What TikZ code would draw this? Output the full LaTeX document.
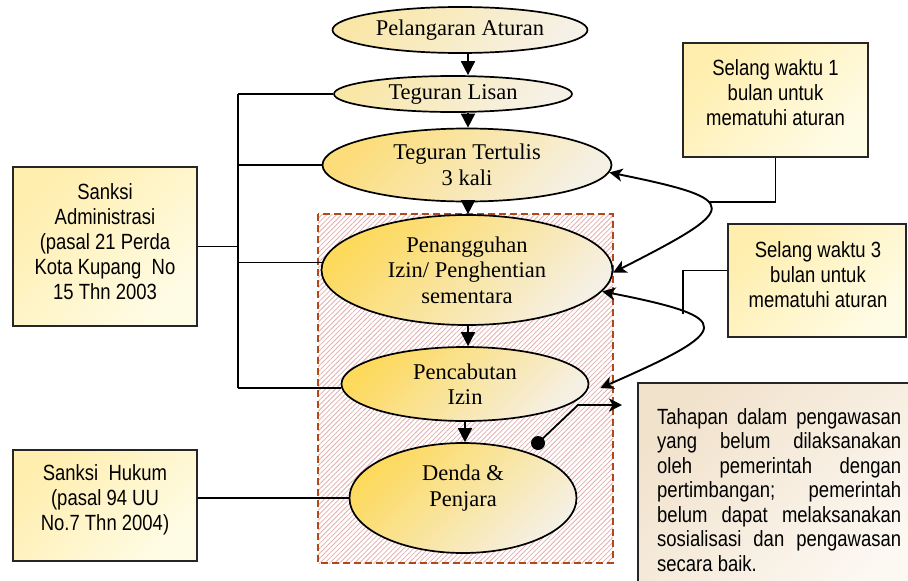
\documentclass[tikz,border=0pt]{standalone}
\usepackage{fontspec}
\setmainfont{Liberation Serif}
\setsansfont{Liberation Sans}[FakeStretch=0.84]
\usetikzlibrary{shapes.geometric,arrows.meta,patterns.meta,calc}

\definecolor{stageA}{HTML}{F9E7A8}
\definecolor{stageB}{HTML}{F6F1E6}
\definecolor{stageC}{HTML}{FCDD7A}
\definecolor{stageD}{HTML}{FDD95C}
\definecolor{stageE}{HTML}{F5F0E4}
\definecolor{noteA}{HTML}{FFEEAE}
\definecolor{noteB}{HTML}{FFFCE6}
\definecolor{remarkA}{HTML}{F1E2CC}
\definecolor{remarkB}{HTML}{FCF8F2}
\definecolor{hatch}{HTML}{E2AEAE}
\definecolor{frameline}{HTML}{B0481A}

\tikzset{
  stage/.style={ellipse, draw=black, line width=1.7pt, inner sep=0pt, align=center,
    font=\fontsize{22.5}{25.5}\selectfont},
  stagetext/.style={inner sep=0pt, align=center, font=\fontsize{22.5}{25.5}\selectfont},
  pale/.style={top color=stageA, bottom color=stageB, shading angle=45},
  warm/.style={top color=stageC, bottom color=stageE, shading angle=45},
  gold/.style={top color=stageD, bottom color=stageE, shading angle=45},
  notebox/.style={draw=black!85, line width=2pt, inner sep=0pt,
    top color=noteA, bottom color=noteB, shading angle=45},
  remarkbox/.style={draw=black!85, line width=2pt, inner sep=0pt,
    top color=remarkA, bottom color=remarkB, shading angle=45},
  notetext/.style={align=center, inner sep=0pt, font=\sffamily\fontsize{22}{25}\selectfont},
  wire/.style={draw=black, line width=1.8pt},
  flow/.style={wire, -{Triangle[length=14pt,width=14pt]}},
  loop/.style={draw=black, line width=1.9pt,
    {Stealth[length=13pt,width=13pt,inset=3.5pt]}-{Stealth[length=13pt,width=13pt,inset=3.5pt]}},
  pointer/.style={wire, -{Stealth[length=13pt,width=13pt,inset=3.5pt]}},
}

\begin{document}
\begin{tikzpicture}[x=1pt,y=-1pt]
\useasboundingbox (0,0) rectangle (908,581);

% hatched frame round the later sanctions
\path[pattern={Lines[angle=45,distance=3.5pt,line width=0.8pt]}, pattern color=hatch]
  (318,214) rectangle (613,563);
\draw[frameline, line width=2pt, dash pattern=on 7pt off 4pt] (318,214) rectangle (613,563);

% stages of the sanction
\node[stage,pale,minimum width=255pt,minimum height=46pt] (e1) at (460,30) {Pelangaran Aturan};
\node[stage,pale,minimum width=238pt,minimum height=36pt] (e2) at (453,94) {Teguran Lisan};
\node[stage,warm,minimum width=289pt,minimum height=73pt] (e3) at (467,165) {Teguran Tertulis\\3 kali};
\node[stage,gold,minimum width=291pt,minimum height=110pt] (e4) at (467,270) {Penangguhan\\Izin/ Penghentian\\sementara};
\node[stage,gold,minimum width=247pt,minimum height=74pt] (e5) at (465,384) {Pencabutan\\Izin};
\node[stage,gold,minimum width=227pt,minimum height=110pt] (e6) at (463,498) {};
\node[stagetext] (e6txt) at (463,488) {Denda \&\\Penjara};

% legal basis boxes
\node[notebox, minimum width=184pt, minimum height=159pt] (adm) at (105,246.5) {};
\node[notetext] (admtxt) at (105,241.5) {Sanksi\\Administrasi\\(pasal 21 Perda\\Kota Kupang~ No\\15 Thn 2003};
\node[notebox, minimum width=184pt, minimum height=111pt] (hukum) at (105,505.5) {};
\node[notetext] (hukumtxt) at (105,499.5) {Sanksi~ Hukum\\(pasal 94 UU\\No.7 Thn 2004)};

% time limits
\node[notebox, minimum width=185pt, minimum height=114pt] (s1) at (775.5,100) {};
\node[notetext] (s1txt) at (775.5,93) {Selang waktu 1\\bulan untuk\\mematuhi aturan};
\node[notebox, minimum width=178pt, minimum height=113pt] (s3) at (817,280.5) {};
\node[notetext] (s3txt) at (818,274.5) {Selang waktu 3\\bulan untuk\\mematuhi aturan};

% remark
\node[remarkbox, minimum width=274pt, minimum height=220pt] (tah) at (775,493) {};
\node[anchor=north west, inner sep=0pt, align=left, font=\sffamily\fontsize{22}{24.5}\selectfont]
  (tahtxt) at (657,408) {%
  \makebox[244pt][s]{Tahapan dalam pengawasan}\\
  \makebox[244pt][s]{yang belum dilaksanakan}\\
  \makebox[244pt][s]{oleh pemerintah dengan}\\
  \makebox[244pt][s]{pertimbangan; pemerintah}\\
  \makebox[244pt][s]{belum dapat melaksanakan}\\
  \makebox[244pt][s]{sosialisasi dan pengawasan}\\
  secara baik.};

% sequence of stages
\coordinate (ax) at (468,0);
\draw[flow] (e1.south -| ax) -- (e2.north -| ax);
\draw[flow] (e2.south -| ax) -- (e3.north -| ax);
\draw[flow] (e3.south -| ax) -- (e4.north -| ax);
\draw[flow] (e4.south -| ax) -- (e5.north -| ax);
\draw[flow] (e5.south) -- (e5.south |- e6.north);

% administrative sanctions bracket
\coordinate (bus) at (238,0);
\draw[wire] (bus |- e2.west) -- (e2.west);
\draw[wire] (bus |- e3.west) -- (e3.west);
\draw[wire] (bus |- e4.177) -- (e4.177);
\draw[wire] (bus |- e5.182) -- (e5.182);
\draw[wire] (bus |- e2.west) -- (bus |- e5.182);
\draw[wire] (adm.east) -- (adm.east -| bus);

% criminal sanction
\draw[wire] (hukum.east |- e6.west) -- (e6.west);

% one month interval
\coordinate (j1) at (709,202);
\draw[wire] (s1.south) |- (j1);
\draw[loop] (e3.-3) .. controls (745,200) and (740,208) .. (e4.-1);

% three month interval
\coordinate (j3) at (683,314);
\coordinate (p5) at ($(e5.east)+(11,4)$);
\draw[wire] ($(s3.west)+(0,-10)$) -| (j3);
\draw[loop] (e4.-9) .. controls (738,318) and (733,330) .. (p5);

% pointer to the remark
\coordinate (dot) at (538,443);
\coordinate (bend) at (578,405);
\coordinate (tip) at (622,405);
\draw[pointer] (dot) -- (bend) -- (tip);
\fill (dot) circle[radius=7pt];
\end{tikzpicture}
\end{document}
